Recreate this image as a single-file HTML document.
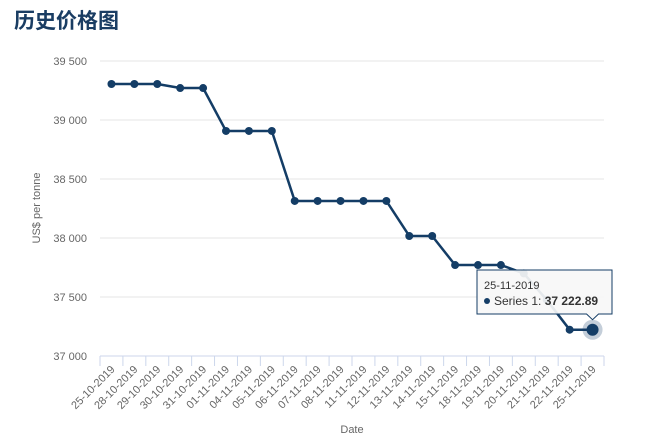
<!DOCTYPE html>
<html><head><meta charset="utf-8"><style>
body{margin:0;background:#fff;width:656px;height:440px;overflow:hidden;font-family:"Liberation Sans","Noto Sans CJK SC",sans-serif}
h1{position:absolute;left:14px;top:5px;margin:0;font-size:21px;color:#1a3d63;font-weight:bold}
svg{position:absolute;left:0;top:0}
</style></head><body>
<h1>历史价格图</h1>
<svg id="c" width="656" height="440"></svg>
<script>
const categories=["25-10-2019","28-10-2019","29-10-2019","30-10-2019","31-10-2019","01-11-2019","04-11-2019","05-11-2019","06-11-2019","07-11-2019","08-11-2019","11-11-2019","12-11-2019","13-11-2019","14-11-2019","15-11-2019","18-11-2019","19-11-2019","20-11-2019","21-11-2019","22-11-2019","25-11-2019"];
const values=[39305,39305,39305,39271,39271,38907,38907,38907,38314,38314,38314,38314,38314,38017,38017,37771,37771,37771,37700,37475,37222.89,37222.89];
const yTicks=[37000,37500,38000,38500,39000,39500];
const yTickLabels=["37 000","37 500","38 000","38 500","39 000","39 500"];
const NS="http://www.w3.org/2000/svg",svg=document.getElementById('c');
const x0=100,x1=604,yTop=61,yBot=356,vMin=37000,vMax=39500;
const bw=(x1-x0)/categories.length;
const X=i=>x0+bw*(i+0.5);
const Y=v=>yBot-(v-vMin)/(vMax-vMin)*(yBot-yTop);
function el(t,a,p){const e=document.createElementNS(NS,t);for(const k in a)e.setAttribute(k,a[k]);(p||svg).appendChild(e);return e;}
yTicks.forEach((v,i)=>{
 const g=el('line',{x1:x0,x2:x1,y1:Y(v),y2:Y(v),stroke:i==0?'#ccd6eb':'#e6e6e6','stroke-width':1});
 
 
 const t=el('text',{x:87,y:Y(v)+4,'text-anchor':'end','font-size':11,fill:'#666'});
 t.textContent=yTickLabels[i];
 
 
});
for(let i=0;i<=categories.length;i++){
 const tk=el('line',{x1:x0+bw*i,x2:x0+bw*i,y1:yBot,y2:yBot+10,stroke:'#ccd6eb'});
 
 
}
categories.forEach((c,i)=>{
 const t=el('text',{x:X(i)+4,y:yBot+14,'text-anchor':'end','font-size':11,fill:'#666',transform:`rotate(-45 ${X(i)+4} ${yBot+14})`});
 t.textContent=c;
 
 
});
const yt=el('text',{x:40,y:208,'text-anchor':'middle','font-size':11,fill:'#666',transform:'rotate(-90 40 208)'});yt.textContent='US$ per tonne';


const xt=el('text',{x:352,y:433,'text-anchor':'middle','font-size':11,fill:'#666'});xt.textContent='Date';


const line=el('polyline',{points:values.map((v,i)=>X(i)+','+Y(v)).join(' '),fill:'none',stroke:'#143d66','stroke-width':2.5,'stroke-linejoin':'round'});


const last=values.length-1;
const halo=el('circle',{cx:X(last),cy:Y(values[last]),r:10,fill:'#143d66','fill-opacity':0.25});


values.forEach((v,i)=>{
 const p=el('circle',{cx:X(i),cy:Y(v),r:i==last?6:4,fill:'#143d66'});
 
 
});
// tooltip
const tg=el('g',{});


const tx=X(last),ty=Y(values[last]);
el('path',{d:`M477 270 H612 V314 H${tx+6} L${tx} ${ty-10} L${tx-6} 314 H477 Z`,fill:'#f7f7f7','fill-opacity':0.92,stroke:'#143d66','stroke-width':1},tg);
const t1=el('text',{x:484,y:289,'font-size':11,fill:'#333'},tg);t1.textContent=categories[last];
el('circle',{cx:487,cy:301,r:3,fill:'#143d66'},tg);
const t2=el('text',{x:494,y:305,'font-size':12,fill:'#333'},tg);
t2.innerHTML='Series 1: <tspan font-weight="bold">37 222.89</tspan>';
</script>
</body></html>
